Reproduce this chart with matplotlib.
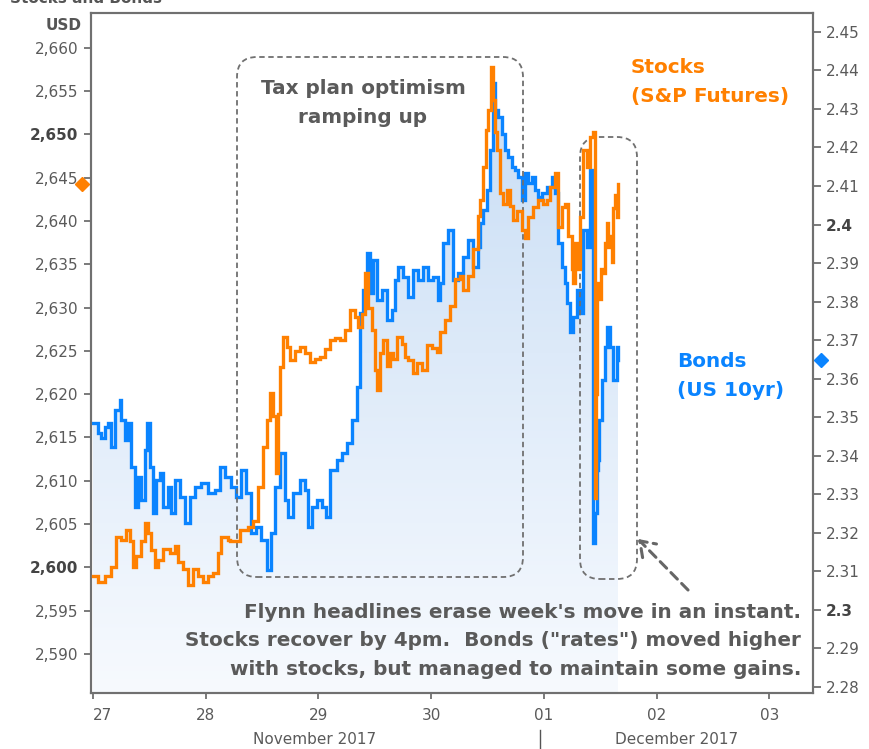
import matplotlib
matplotlib.use('Agg')
import matplotlib.pyplot as plt
import numpy as np
import matplotlib.transforms as mtransforms
from matplotlib.patches import FancyBboxPatch, FancyArrowPatch
from matplotlib.lines import Line2D
from matplotlib.colors import LinearSegmentedColormap

# ---------------- data (days since 27 Nov 2017, 00:00) ----------------
stock_days = [
    0.002, 0.046, 0.105, 0.164, 0.209, 0.253, 0.297, 0.327, 0.356, 0.386,
    0.430, 0.460, 0.489, 0.519, 0.549, 0.578, 0.623, 0.682, 0.726, 0.756,
    0.800, 0.844, 0.889, 0.933, 0.977, 1.022, 1.066, 1.110, 1.140, 1.199,
    1.217, 1.305, 1.379, 1.423, 1.468, 1.512, 1.542, 1.571, 1.601, 1.625,
    1.645, 1.660, 1.684, 1.719, 1.749, 1.793, 1.837, 1.882, 1.926, 1.970,
    2.015, 2.059, 2.103, 2.148, 2.192, 2.236, 2.281, 2.325, 2.355, 2.384,
    2.414, 2.443, 2.473, 2.502, 2.517, 2.547, 2.576, 2.606, 2.635, 2.665,
    2.695, 2.739, 2.768, 2.798, 2.842, 2.872, 2.917, 2.961, 3.005, 3.050,
    3.079, 3.123, 3.168, 3.212, 3.256, 3.286, 3.330, 3.374, 3.419, 3.434,
    3.457, 3.487, 3.507, 3.528, 3.546, 3.567, 3.587, 3.611, 3.640, 3.670,
    3.700, 3.729, 3.764, 3.803, 3.833, 3.862, 3.906, 3.951, 3.995, 4.025,
    4.054, 4.099, 4.128, 4.158, 4.187, 4.217, 4.247, 4.261, 4.276, 4.296,
    4.320, 4.344, 4.380, 4.409, 4.438, 4.453, 4.456, 4.462, 4.468, 4.475,
    4.490, 4.510, 4.527, 4.545, 4.557, 4.571, 4.586, 4.601, 4.615, 4.631,
    4.645, 4.657,
]
stock_values = [
    2599.0, 2598.3, 2599.0, 2600.1, 2603.5, 2603.2, 2604.3, 2603.0, 2600.0, 2601.3,
    2603.0, 2605.1, 2604.0, 2602.0, 2600.0, 2600.8, 2602.1, 2601.7, 2602.5, 2600.6,
    2599.8, 2598.0, 2599.8, 2599.0, 2598.3, 2599.0, 2599.4, 2601.7, 2603.5, 2603.2,
    2603.1, 2604.3, 2604.7, 2605.4, 2609.3, 2613.9, 2617.0, 2620.1, 2617.5, 2610.9,
    2617.7, 2623.1, 2626.6, 2625.4, 2623.9, 2625.0, 2625.4, 2624.7, 2623.7, 2624.0,
    2624.3, 2625.2, 2626.2, 2626.5, 2626.2, 2627.4, 2629.7, 2628.9, 2627.7, 2629.3,
    2634.0, 2630.0, 2627.4, 2622.8, 2620.5, 2624.8, 2626.2, 2623.2, 2624.8, 2624.0,
    2626.6, 2625.8, 2624.3, 2623.9, 2622.4, 2623.6, 2622.8, 2625.7, 2625.3, 2624.9,
    2627.2, 2628.6, 2630.2, 2633.3, 2633.6, 2632.0, 2633.6, 2636.8, 2640.6, 2642.4,
    2646.2, 2650.5, 2652.8, 2657.8, 2654.0, 2650.3, 2648.2, 2643.2, 2642.0, 2643.6,
    2641.7, 2640.1, 2641.2, 2638.9, 2638.0, 2640.5, 2641.6, 2642.4, 2642.0, 2642.4,
    2643.9, 2645.5, 2639.3, 2641.6, 2642.0, 2638.3, 2634.5, 2632.8, 2637.5, 2634.5,
    2640.5, 2648.2, 2646.2, 2649.7, 2650.3, 2650.0, 2608.0, 2620.0, 2626.6, 2632.8,
    2631.0, 2634.5, 2634.0, 2637.5, 2639.7, 2637.0, 2638.2, 2635.2, 2641.5, 2643.0,
    2640.5, 2644.3,
]
bond_days = [
    0.002, 0.046, 0.076, 0.105, 0.135, 0.164, 0.194, 0.238, 0.253, 0.283,
    0.312, 0.342, 0.371, 0.401, 0.430, 0.460, 0.484, 0.504, 0.534, 0.563,
    0.593, 0.623, 0.667, 0.697, 0.732, 0.771, 0.815, 0.859, 0.903, 0.963,
    1.022, 1.081, 1.125, 1.170, 1.229, 1.273, 1.317, 1.362, 1.406, 1.450,
    1.494, 1.545, 1.583, 1.613, 1.657, 1.702, 1.731, 1.778, 1.837, 1.882,
    1.911, 1.941, 1.985, 2.030, 2.068, 2.103, 2.163, 2.207, 2.251, 2.296,
    2.340, 2.369, 2.399, 2.429, 2.458, 2.487, 2.517, 2.562, 2.606, 2.651,
    2.680, 2.709, 2.753, 2.798, 2.842, 2.886, 2.931, 2.975, 3.019, 3.064,
    3.079, 3.108, 3.152, 3.197, 3.241, 3.286, 3.330, 3.374, 3.419, 3.434,
    3.463, 3.493, 3.522, 3.546, 3.567, 3.596, 3.626, 3.655, 3.685, 3.715,
    3.744, 3.773, 3.803, 3.833, 3.862, 3.892, 3.921, 3.951, 3.981, 4.025,
    4.069, 4.099, 4.128, 4.158, 4.187, 4.202, 4.232, 4.261, 4.291, 4.320,
    4.344, 4.380, 4.409, 4.433, 4.438, 4.453, 4.468, 4.483, 4.491, 4.513,
    4.542, 4.557, 4.586, 4.616, 4.645, 4.657,
]
bond_values = [
    2.3485, 2.3459, 2.3445, 2.3475, 2.3485, 2.3423, 2.3519, 2.3545, 2.3493, 2.3441,
    2.3485, 2.3371, 2.3267, 2.3345, 2.3285, 2.3415, 2.3485, 2.3371, 2.3252, 2.3337,
    2.3355, 2.3267, 2.3319, 2.3250, 2.3337, 2.3293, 2.3226, 2.3293, 2.3319, 2.3329,
    2.3303, 2.3311, 2.3371, 2.3345, 2.3319, 2.3293, 2.3363, 2.3303, 2.3200, 2.3215,
    2.3182, 2.3104, 2.3200, 2.3319, 2.3407, 2.3285, 2.3241, 2.3303, 2.3337, 2.3311,
    2.3215, 2.3267, 2.3285, 2.3267, 2.3241, 2.3363, 2.3389, 2.3407, 2.3433, 2.3493,
    2.3579, 2.3771, 2.3830, 2.3926, 2.3823, 2.3908, 2.3804, 2.3830, 2.3753, 2.3779,
    2.3856, 2.3890, 2.3864, 2.3812, 2.3882, 2.3856, 2.3890, 2.3856, 2.3864, 2.3804,
    2.3849, 2.3952, 2.3986, 2.3856, 2.3873, 2.3916, 2.3960, 2.3890, 2.3942, 2.4004,
    2.4038, 2.4090, 2.4194, 2.4368, 2.4298, 2.4279, 2.4236, 2.4193, 2.4176, 2.4150,
    2.4141, 2.4124, 2.4064, 2.4133, 2.4107, 2.4124, 2.4090, 2.4072, 2.4081, 2.4098,
    2.4124, 2.4081, 2.3952, 2.3890, 2.3849, 2.3797, 2.3720, 2.3760, 2.3830, 2.3771,
    2.3986, 2.3942, 2.4142, 2.4056, 2.3174, 2.3250, 2.3363, 2.3390, 2.3493, 2.3597,
    2.3682, 2.3734, 2.3682, 2.3597, 2.3682, 2.3649,
]
day_ticks = [0, 1, 2, 3, 4, 5, 6]
day_labels = ['27', '28', '29', '30', '01', '02', '03']
stock_ticks = [2590, 2595, 2600, 2605, 2610, 2615, 2620, 2625, 2630, 2635,
               2640, 2645, 2650, 2655, 2660]
bond_ticks = [2.28, 2.29, 2.30, 2.31, 2.32, 2.33, 2.34, 2.35, 2.36, 2.37,
              2.38, 2.39, 2.40, 2.41, 2.42, 2.43, 2.44, 2.45]
stock_bold = [2650, 2600]
bond_bold = [2.40, 2.30]

# ---------------- style ----------------
ORANGE = '#ff8000'
BLUE = '#0a84ff'
GREY = '#5a5a5a'
SPINE = '#707070'
W, H = 869, 749

def fp(x, y):
    return (x / W, 1 - y / H)

fig = plt.figure(figsize=(W / 100, H / 100), dpi=100)
fig.patch.set_facecolor('white')
ax = fig.add_axes([91 / W, 1 - 693 / H, 722 / W, 680 / H])
ax2 = ax.twinx()
ax.set_zorder(ax2.get_zorder() + 1)
ax.patch.set_visible(False)
ax2.patch.set_facecolor('#fefefe')

xlim = (-0.016, 6.386)
ylim_s = (2585.5, 2664.0)
ylim_b = (2.2784, 2.4549)

# gradient fill under bonds
cmap = LinearSegmentedColormap.from_list('g', ['#f7fafe', '#c3daf4'])
grad = np.linspace(0, 1, 256).reshape(-1, 1)
im = ax2.imshow(grad, extent=[xlim[0], xlim[1], ylim_b[0], ylim_b[1]],
                origin='lower', aspect='auto', cmap=cmap, zorder=1)
poly = ax2.fill_between(bond_days, bond_values, ylim_b[0], step='post',
                        facecolor='none', edgecolor='none')
im.set_clip_path(poly.get_paths()[0], transform=ax2.transData)

ax2.plot(bond_days, bond_values, color=BLUE, lw=2.4, drawstyle='steps-post',
         zorder=3, solid_joinstyle='miter')
ax.plot(stock_days, stock_values, color=ORANGE, lw=2.4, drawstyle='steps-post',
        zorder=3, solid_joinstyle='miter')

ax.set_xlim(*xlim)
ax.set_ylim(*ylim_s)
ax2.set_xlim(*xlim)
ax2.set_ylim(*ylim_b)

# ticks
ax.set_xticks(day_ticks)
ax.set_xticklabels(day_labels)
ax.set_yticks(stock_ticks)
ax.set_yticklabels([f'{v:,}' for v in stock_ticks])
ax2.set_yticks(bond_ticks)
ax2.set_yticklabels([('%.2f' % v).rstrip('0').rstrip('.') for v in bond_ticks])

ax.tick_params(axis='y', direction='out', length=5, width=1.3, color=SPINE,
               pad=4, labelsize=11, labelcolor=GREY)
ax.tick_params(axis='x', direction='out', length=4, width=1.3, color=SPINE,
               pad=7, labelsize=11, labelcolor=GREY)
ax2.tick_params(axis='y', direction='out', length=6, width=1.3, color=SPINE,
                pad=3, labelsize=11, labelcolor=GREY)
# first day label sits slightly inside the frame, as in the original
ax.get_xticklabels()[0].set_horizontalalignment('left')

for lab, v in zip(ax.get_yticklabels(), stock_ticks):
    if v in stock_bold:
        lab.set_fontweight('bold')
        lab.set_color('#444444')
for lab, v in zip(ax2.get_yticklabels(), bond_ticks):
    if any(abs(v - b) < 1e-9 for b in bond_bold):
        lab.set_fontweight('bold')
        lab.set_color('#444444')

for a in (ax, ax2):
    for s in a.spines.values():
        s.set_color(SPINE)
        s.set_linewidth(1.5)

# last-value markers
ax.plot([-0.013], [stock_values[-1]], marker='D', ms=7, color=ORANGE,
        transform=mtransforms.blended_transform_factory(ax.transAxes, ax.transData),
        clip_on=False, zorder=5)
ax2.plot([1.011], [bond_values[-1]], marker='D', ms=7, color=BLUE,
         transform=mtransforms.blended_transform_factory(ax2.transAxes, ax2.transData),
         clip_on=False, zorder=5)

# texts
fig.text(*fp(10, 3), 'Stocks and Bonds', fontsize=11, fontweight='bold',
         color='#555555', va='baseline', ha='left')
fig.text(*fp(64, 25), 'USD', fontsize=11, fontweight='bold', color='#555555',
         ha='center', va='center')
fig.text(*fp(315, 740), 'November 2017', fontsize=11, color=GREY,
         ha='center', va='center')
fig.text(*fp(677, 740), 'December 2017', fontsize=11, color=GREY,
         ha='center', va='center')
fig.add_artist(Line2D([540 / W, 540 / W], [0, 1 - 730 / H],
                      transform=fig.transFigure, color='#555555', lw=1))

TXT = '#5a5a5a'
FS = 14.4
LS = 1.62
fig.text(*fp(363, 103), 'Tax plan optimism\nramping up', fontsize=FS,
         fontweight='bold', color=TXT, ha='center', va='center',
         multialignment='center', linespacing=LS)
fig.text(*fp(801, 641), "Flynn headlines erase week's move in an instant.\n"
         "Stocks recover by 4pm.  Bonds (\"rates\") moved higher\n"
         "with stocks, but managed to maintain some gains.",
         fontsize=FS, fontweight='bold', color=TXT, ha='right', va='center',
         multialignment='right', linespacing=LS)
fig.text(*fp(631, 82), 'Stocks\n(S&P Futures)', fontsize=FS, fontweight='bold',
         color=ORANGE, ha='left', va='center', linespacing=LS)
fig.text(*fp(677, 376), 'Bonds\n(US 10yr)', fontsize=FS, fontweight='bold',
         color=BLUE, ha='left', va='center', linespacing=LS)

# dashed boxes and arrow (figure inches)
box_kw = dict(transform=fig.dpi_scale_trans, fill=False, ec='#707070', lw=1.3,
              ls=(0, (3, 2)))
fig.add_artist(FancyBboxPatch((2.37, (H - 577) / 100), 2.86, 5.20,
                              boxstyle='round,pad=0,rounding_size=0.2', **box_kw))
fig.add_artist(FancyBboxPatch((5.80, (H - 579) / 100), 0.57, 4.42,
                              boxstyle='round,pad=0,rounding_size=0.2', **box_kw))
fig.add_artist(FancyArrowPatch((6.90, (H - 592) / 100), (6.36, (H - 537) / 100),
                               transform=fig.dpi_scale_trans,
                               arrowstyle='->,head_length=0.5,head_width=0.35',
                               mutation_scale=20, color='#666666', lw=2.2,
                               ls=(0, (3, 2))))

fig.savefig('out.png', dpi=100, facecolor='white')
